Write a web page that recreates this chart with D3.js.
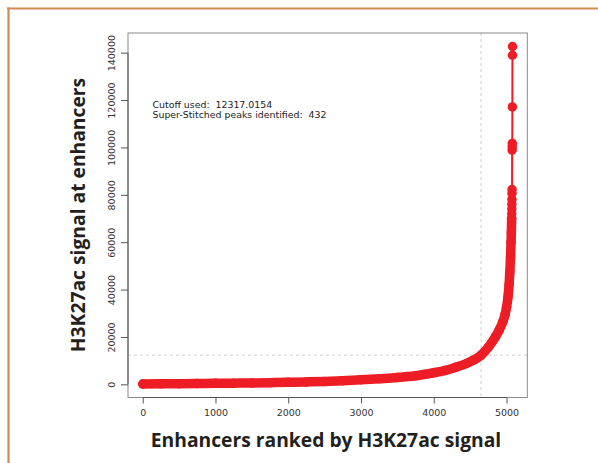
<!DOCTYPE html>
<html>
<head>
<meta charset="utf-8">
<script src="https://cdn.jsdelivr.net/npm/d3@7"></script>
<style>
  html, body { margin: 0; padding: 0; background: #fff; }
  svg { display: block; }
  .ann { white-space: pre; }
</style>
</head>
<body>
<svg id="chart" width="598" height="463"></svg>
<script>
// Stitched enhancers ranked by H3K27ac signal (hockey-stick plot)
const totalEnhancers = 5082;
const superCount = 432;
const cutoffValue = 12317.0154;

// Dense body of the ranked curve (rank, signal)
const denseRanks  = [1, 250, 500, 750, 1000, 1250, 1500, 1750, 2000, 2250, 2500, 2750, 3000, 3250, 3500, 3750, 4000, 4150, 4300, 4450, 4550, 4650, 4700, 4750, 4800, 4850, 4900, 4950, 4980, 5000, 5020, 5035, 5045, 5055, 5062, 5066, 5070];
const denseSignal = [150, 210, 280, 350, 420, 500, 580, 700, 850, 1020, 1250, 1550, 1950, 2400, 2900, 3650, 4900, 5800, 7200, 8800, 10300, 12317, 13900, 15700, 17800, 20200, 23000, 26500, 29500, 32500, 37000, 42000, 47500, 54000, 60000, 64000, 70000];

// Highest-ranked enhancers, drawn as separate markers
const topRanks  = [5071, 5072, 5073, 5074, 5075, 5076, 5077, 5078, 5079, 5080, 5081, 5082];
const topSignal = [72000, 74000, 76000, 78000, 80600, 82200, 98900, 100300, 101700, 117100, 138900, 142600];

const xTicks = [0, 1000, 2000, 3000, 4000, 5000];
const yTicks = [0, 20000, 40000, 60000, 80000, 100000, 120000, 140000];

const annotationLines = [
  "Cutoff used:  " + cutoffValue.toFixed(4),
  "Super-Stitched peaks identified:  " + superCount
];

const xTitle = "Enhancers ranked by H3K27ac signal";
const yTitle = "H3K27ac signal at enhancers";

const red = "#ee1d25";
const svg = d3.select("#chart");

// page frame
svg.append("line").attr("x1", 7).attr("x2", 598).attr("y1", 8.5).attr("y2", 8.5)
  .attr("stroke", "#d08c4e").attr("stroke-width", 2.2);
svg.append("line").attr("x1", 8.5).attr("x2", 8.5).attr("y1", 7.5).attr("y2", 463)
  .attr("stroke", "#d08c4e").attr("stroke-width", 2.2);

const plot = { left: 128, right: 527.3, top: 33, bottom: 397.5 };

// R-style 4% padding on data extents
const allRanks = denseRanks.concat(topRanks);
const allSignal = denseSignal.concat(topSignal);
const xr = d3.extent(allRanks), yr = d3.extent(allSignal);
const xp = (xr[1] - xr[0]) * 0.04, yp = (yr[1] - yr[0]) * 0.04;
const x = d3.scaleLinear().domain([xr[0] - xp, xr[1] + xp]).range([plot.left, plot.right]);
const y = d3.scaleLinear().domain([yr[0] - yp, yr[1] + yp]).range([plot.bottom, plot.top]);

// cutoff guides
const guide = svg.append("g").attr("stroke", "#cfcfcf").attr("stroke-width", 1)
  .attr("stroke-dasharray", "3,3").attr("fill", "none");
guide.append("line").attr("x1", plot.left).attr("x2", plot.right)
  .attr("y1", y(cutoffValue)).attr("y2", y(cutoffValue));
guide.append("line").attr("x1", x(totalEnhancers - superCount)).attr("x2", x(totalEnhancers - superCount))
  .attr("y1", plot.top).attr("y2", plot.bottom);

// dense markers overlap into a solid band
const densePts = denseRanks.map((r, i) => [r, denseSignal[i]]);
const topPts = topRanks.map((r, i) => [r, topSignal[i]]);
const band = d3.line().x(d => x(d[0])).y(d => y(d[1])).curve(d3.curveMonotoneX);
svg.append("path").attr("d", band(densePts)).attr("fill", "none")
  .attr("stroke", red).attr("stroke-width", 9.5)
  .attr("stroke-linecap", "round").attr("stroke-linejoin", "round");

// connecting line through all points
const allPts = densePts.concat(topPts);
svg.append("path").attr("d", d3.line().x(d => x(d[0])).y(d => y(d[1]))(allPts))
  .attr("fill", "none").attr("stroke", red).attr("stroke-width", 2);

svg.append("g").selectAll("circle").data(allPts).join("circle")
  .attr("cx", d => x(d[0])).attr("cy", d => y(d[1])).attr("r", 4.75).attr("fill", red);

// plot box
svg.append("rect").attr("x", plot.left).attr("y", plot.top)
  .attr("width", plot.right - plot.left).attr("height", plot.bottom - plot.top)
  .attr("fill", "none").attr("stroke", "#8a8a8a").attr("stroke-width", 1);

const tickFont = "DejaVu Sans, sans-serif";

// x axis
const xa = svg.append("g").attr("transform", `translate(0,${plot.bottom})`)
  .call(d3.axisBottom(x).tickValues(xTicks).tickFormat(d3.format("d")).tickSize(6).tickPadding(6));
xa.select(".domain").attr("d", `M${x(xTicks[0])},0H${x(xTicks[xTicks.length - 1])}`).attr("stroke", "#555");
xa.selectAll(".tick line").attr("stroke", "#555");
xa.selectAll(".tick text").attr("font-family", tickFont).attr("font-size", 9.5).attr("fill", "#333");

// y axis (rotated labels)
const ya = svg.append("g").attr("transform", `translate(${plot.left},0)`)
  .call(d3.axisLeft(y).tickValues(yTicks).tickFormat(d3.format("d")).tickSize(7));
ya.select(".domain").attr("d", `M0,${y(yTicks[0])}V${y(yTicks[yTicks.length - 1])}`).attr("stroke", "#555");
ya.selectAll(".tick line").attr("stroke", "#555");
ya.selectAll(".tick text")
  .attr("x", null).attr("dy", null)
  .attr("transform", "translate(-13,0) rotate(-90)")
  .attr("text-anchor", "middle")
  .attr("font-family", tickFont).attr("font-size", 9.5).attr("fill", "#333");

// annotation
const ann = svg.append("text").attr("class", "ann").attr("xml:space", "preserve")
  .attr("font-family", tickFont).attr("font-size", 9.4).attr("fill", "#222");
annotationLines.forEach((t, i) => {
  ann.append("tspan").attr("x", 152.5).attr("y", 108.3 + i * 9.8).text(t);
});

// axis titles
const titleFont = "'Open Sans', sans-serif";
const xt = svg.append("text").attr("x", 326).attr("y", 446.5).attr("text-anchor", "middle")
  .attr("font-family", titleFont).attr("font-weight", 700).attr("font-size", 19)
  .attr("fill", "#231f20").text(xTitle);
const yt = svg.append("text").attr("transform", `translate(85,215) rotate(-90)`).attr("text-anchor", "middle")
  .attr("font-family", titleFont).attr("font-weight", 700).attr("font-size", 19)
  .attr("fill", "#231f20").text(yTitle);
// fit the title width
const targetW = 350.7;
const fs = 19 * targetW / xt.node().getComputedTextLength();
xt.attr("font-size", fs);
yt.attr("font-size", fs);
</script>
</body>
</html>
